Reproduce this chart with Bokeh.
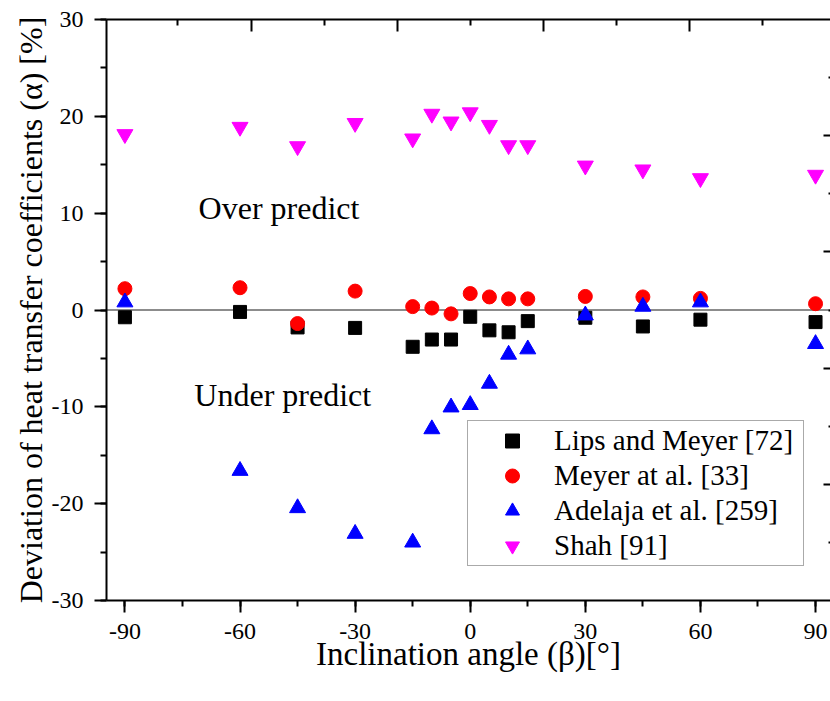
from bokeh.plotting import figure
from bokeh.models import (Range1d, LinearAxis, SingleIntervalTicker, FixedTicker,
                          Span, Label, Legend, LegendItem, CustomJSTickFormatter)
from bokeh.embed import file_html
from bokeh.resources import INLINE

# ---- data ----
angles = [-90, -60, -45, -30, -15, -10, -5, 0, 5, 10, 15, 30, 45, 60, 90]
lips_meyer = [-0.75, -0.2, -1.8, -1.85, -3.8, -3.05, -3.05, -0.7, -2.1, -2.3, -1.15, -0.8, -1.7, -1.0, -1.25]
meyer = [2.2, 2.3, -1.4, 1.95, 0.35, 0.2, -0.4, 1.7, 1.35, 1.15, 1.15, 1.4, 1.35, 1.2, 0.65]
adelaja = [0.8, -16.6, -20.45, -23.1, -24.0, -12.3, -10.05, -9.8, -7.6, -4.6, -4.05, -0.55, 0.35, 0.8, -3.5]
shah = [18.15, 18.9, 16.9, 19.3, 17.7, 20.25, 19.45, 20.4, 19.1, 17.0, 17.0, 14.9, 14.5, 13.6, 13.95]

series_labels = ["Lips and Meyer [72]", "Meyer at al. [33]", "Adelaja et al. [259]", "Shah [91]"]
x_title = "Inclination angle (β)[°]"
y_title = "Deviation of heat transfer coefficients (α) [%]"
over_text, over_pos = "Over predict", (-70.8, 10.5)
under_text, under_pos = "Under predict", (-71.9, -8.8)

FONT = "Liberation Serif"

p = figure(width=830, height=701, output_backend="svg", toolbar_location=None,
           x_range=Range1d(-94.8, 93.9), y_range=Range1d(-30, 30),
           min_border_left=106, min_border_right=0, min_border_top=19, min_border_bottom=101)
p.outline_line_color = None
p.xgrid.visible = False
p.ygrid.visible = False
p.background_fill_color = "white"
p.border_fill_color = "white"

int_fmt = CustomJSTickFormatter(code="return tick.toFixed(0)")
blank_fmt = CustomJSTickFormatter(code="return ''")

def style_axis(ax):
    ax.axis_line_color = "black"
    ax.axis_line_width = 2
    ax.major_tick_line_color = "black"
    ax.major_tick_line_width = 2
    ax.minor_tick_line_color = "black"
    ax.minor_tick_line_width = 2
    ax.major_label_text_font = FONT
    ax.major_label_text_font_size = "24px"
    ax.major_label_text_color = "black"
    ax.axis_label_text_font = FONT
    ax.axis_label_text_font_style = "normal"
    ax.axis_label_text_color = "black"

xa = p.xaxis[0]
style_axis(xa)
xa.ticker = SingleIntervalTicker(interval=30, num_minor_ticks=2)
xa.formatter = int_fmt
xa.major_tick_out = 12
xa.major_tick_in = 0
xa.minor_tick_out = 6
xa.minor_tick_in = 0
xa.major_label_standoff = 11
xa.axis_label = x_title
xa.axis_label_text_font_size = "33px"
xa.axis_label_standoff = -6

ya = p.yaxis[0]
style_axis(ya)
ya.ticker = SingleIntervalTicker(interval=10, num_minor_ticks=2)
ya.formatter = int_fmt
ya.major_tick_out = 12
ya.major_tick_in = 0
ya.minor_tick_out = 6
ya.minor_tick_in = 0
ya.major_label_standoff = 11
ya.axis_label = y_title
ya.axis_label_text_font_size = "32px"
ya.axis_label_standoff = 0

top = LinearAxis(ticker=FixedTicker(ticks=[-57.1, -19.05, 19.05, 57.1],
                                    minor_ticks=[-76.2, -38.1, 0, 38.1, 76.2]),
                 formatter=blank_fmt)
style_axis(top)
top.major_tick_in = 12
top.major_tick_out = 0
top.minor_tick_in = 6
top.minor_tick_out = 0
top.major_label_standoff = 0
p.add_layout(top, "above")

right = LinearAxis(ticker=FixedTicker(ticks=[-18, -6, 6, 18],
                                      minor_ticks=[-24, -12, 0, 12, 24]),
                   formatter=blank_fmt)
style_axis(right)
right.axis_line_color = None
right.major_tick_in = 7
right.major_tick_out = 0
right.minor_tick_in = 2
right.minor_tick_out = 0
right.major_label_standoff = 0
p.add_layout(right, "right")

zero = Span(location=0, dimension="width", line_color="#666666", line_width=1.5, level="underlay")
p.add_layout(zero)

r1 = p.scatter(angles, lips_meyer, marker="square", size=13, color="black")
r2 = p.scatter(angles, meyer, marker="circle", size=14, color="#ff0000")
r3 = p.scatter(angles, adelaja, marker="triangle", size=16, color="#0000ff")
r4 = p.scatter(angles, shah, marker="inverted_triangle", size=16, color="#ff00ff")

for txt, (lx, ly) in [(over_text, over_pos), (under_text, under_pos)]:
    p.add_layout(Label(x=lx, y=ly, text=txt, text_font=FONT, text_font_size="32px",
                       text_align="left", text_baseline="middle", text_color="black"))

legend = Legend(items=[LegendItem(label=series_labels[i], renderers=[r])
                       for i, r in enumerate([r1, r2, r3, r4])],
                location=(361, 34))
legend.label_text_font = FONT
legend.label_text_font_size = "29px"
legend.label_text_color = "black"
legend.glyph_width = 84
legend.glyph_height = 35
legend.label_height = 35
legend.label_width = 247
legend.label_standoff = 0
legend.padding = 2
legend.spacing = 0
legend.margin = 0
legend.border_line_color = "#555555"
legend.border_line_width = 1.5
legend.background_fill_color = "white"
legend.background_fill_alpha = 1.0
p.add_layout(legend)

open("out.html", "w").write(file_html(p, INLINE))
